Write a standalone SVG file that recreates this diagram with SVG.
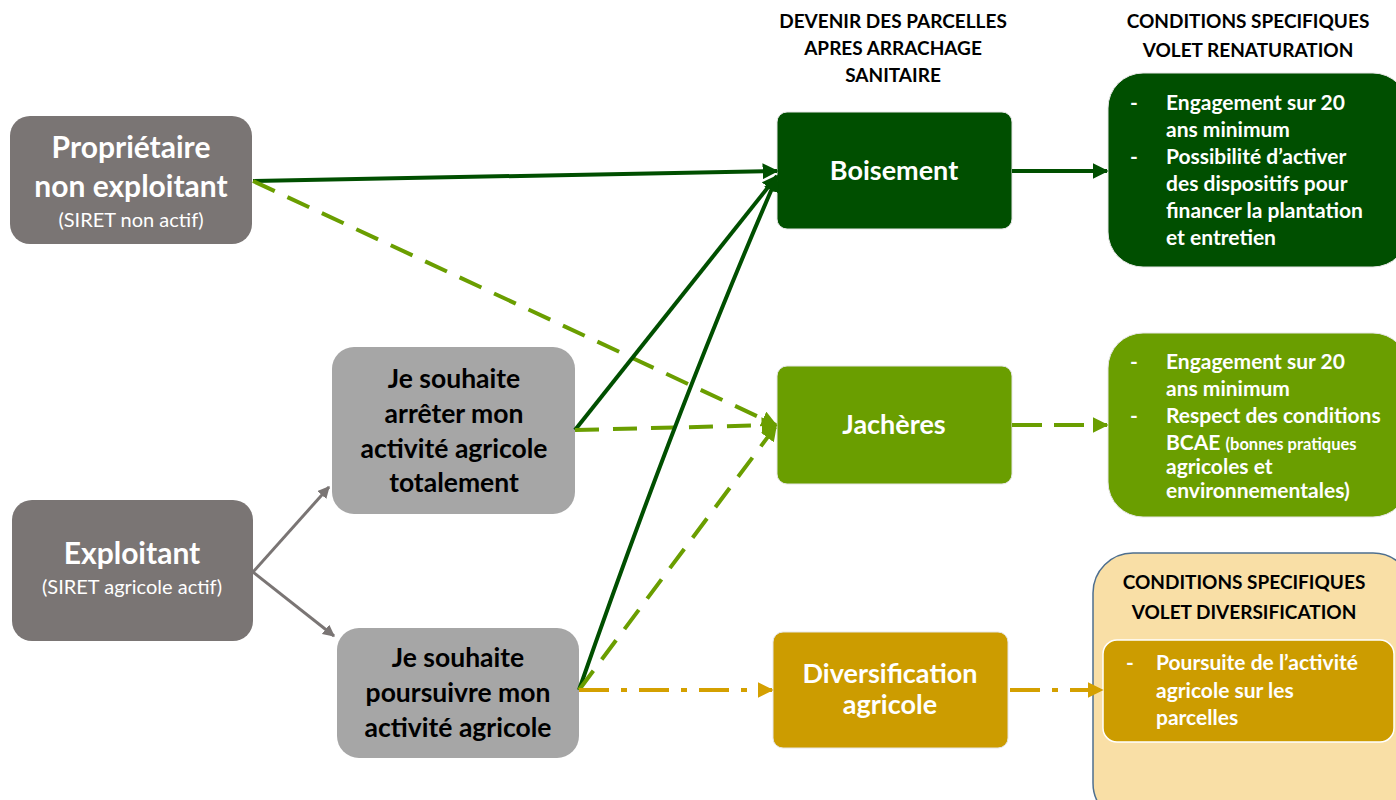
<svg xmlns="http://www.w3.org/2000/svg" width="1396" height="800" viewBox="0 0 1396 800">
<style>
text{font-family:Lato,"Open Sans","Liberation Sans",sans-serif;font-weight:bold;text-anchor:middle}
.w{fill:#fff}
.k{fill:#000}
.reg{font-weight:normal}
.h{font-size:19px;fill:#000}
.dk{fill:#004f00}
.lg{fill:#6a9e00}
.gd{fill:#cc9c00}
.gr{fill:#7a7574}
.lgr{fill:#a6a6a6}
.bl{text-anchor:start;font-size:21px;fill:#fff}
.q{font-size:26.5px}
.big{font-size:30px}
.mid{font-size:27px}
</style>
<defs>
<marker id="aDk" viewBox="0 0 10 10" refX="9" refY="5" markerWidth="4" markerHeight="4" orient="auto" markerUnits="strokeWidth"><path d="M0,0L10,5L0,10z" fill="#004f00"/></marker>
<marker id="aLg" viewBox="0 0 10 10" refX="9" refY="5" markerWidth="4" markerHeight="4" orient="auto" markerUnits="strokeWidth"><path d="M0,0L10,5L0,10z" fill="#6a9e00"/></marker>
<marker id="aGd" viewBox="0 0 10 10" refX="9" refY="5" markerWidth="4" markerHeight="4" orient="auto" markerUnits="strokeWidth"><path d="M0,0L10,5L0,10z" fill="#d4a000"/></marker>
<marker id="aGr" viewBox="0 0 10 10" refX="9" refY="5" markerWidth="4" markerHeight="4" orient="auto" markerUnits="strokeWidth"><path d="M0,0L10,5L0,10z" fill="#7a7574"/></marker>
</defs>

<g id="headers">
<text class="h" x="893" y="28">DEVENIR DES PARCELLES</text>
<text class="h" x="893" y="55">APRES ARRACHAGE</text>
<text class="h" x="893" y="82">SANITAIRE</text>
<text class="h" x="1248" y="28">CONDITIONS SPECIFIQUES</text>
<text class="h" x="1248" y="57">VOLET RENATURATION</text>
</g>

<g id="proprietaire">
<rect x="10" y="116" width="242" height="128" rx="20" class="gr"/>
<text class="w big" x="131" y="158">Propriétaire</text>
<text class="w big" x="131" y="197">non exploitant</text>
<text class="w reg" x="131" y="227" font-size="20">(SIRET non actif)</text>
</g>

<g id="exploitant">
<rect x="12" y="500" width="241" height="141" rx="20" class="gr"/>
<text class="w big" x="132" y="564">Exploitant</text>
<text class="w reg" x="132" y="594" font-size="20">(SIRET agricole actif)</text>
</g>

<g id="arreter">
<rect x="332" y="347" width="243" height="167" rx="22" class="lgr"/>
<text class="k q" x="454" y="388">Je souhaite</text>
<text class="k q" x="454" y="423">arrêter mon</text>
<text class="k q" x="454" y="458">activité agricole</text>
<text class="k q" x="454" y="492">totalement</text>
</g>

<g id="poursuivre">
<rect x="337" y="628" width="242" height="130" rx="22" class="lgr"/>
<text class="k q" x="458" y="667">Je souhaite</text>
<text class="k q" x="458" y="702">poursuivre mon</text>
<text class="k q" x="458" y="737">activité agricole</text>
</g>

<g id="boisement">
<rect x="777" y="112" width="235" height="117" rx="10" class="dk" stroke="#e6e6e6" stroke-width="1"/>
<text class="w mid" x="894" y="180">Boisement</text>
</g>

<g id="jacheres">
<rect x="777" y="366" width="235" height="118" rx="10" class="lg" stroke="#e6e6e6" stroke-width="1"/>
<text class="w mid" x="894" y="434">Jachères</text>
</g>

<g id="diversification">
<rect x="773" y="632" width="235" height="116" rx="10" class="gd" stroke="#e6e6e6" stroke-width="1"/>
<text class="w mid" x="890" y="683">Diversification</text>
<text class="w mid" x="890" y="714">agricole</text>
</g>

<g id="cond-renaturation">
<rect x="1108" y="73" width="300" height="194" rx="35" class="dk" stroke="#e6e6e6" stroke-width="1"/>
<text class="bl" x="1130" y="110">-</text>
<text class="bl" x="1166" y="110">Engagement sur 20</text>
<text class="bl" x="1166" y="137">ans minimum</text>
<text class="bl" x="1130" y="164">-</text>
<text class="bl" x="1166" y="164">Possibilité d’activer</text>
<text class="bl" x="1166" y="191">des dispositifs pour</text>
<text class="bl" x="1166" y="218">financer la plantation</text>
<text class="bl" x="1166" y="245">et entretien</text>
</g>

<g id="cond-jacheres">
<rect x="1108" y="333" width="300" height="184" rx="35" class="lg" stroke="#e6e6e6" stroke-width="1"/>
<text class="bl" x="1130" y="369">-</text>
<text class="bl" x="1166" y="369">Engagement sur 20</text>
<text class="bl" x="1166" y="396">ans minimum</text>
<text class="bl" x="1130" y="423">-</text>
<text class="bl" x="1166" y="423">Respect des conditions</text>
<text class="bl" x="1166" y="450">BCAE <tspan font-size="16.5">(bonnes pratiques</tspan></text>
<text class="bl" x="1166" y="474" font-size="16">agricoles et</text>
<text class="bl" x="1166" y="498" font-size="16">environnementales)</text>
</g>

<g id="cond-diversification">
<rect x="1093" y="553" width="320" height="270" rx="40" fill="#f9dfa6" stroke="#4e6f8f" stroke-width="1.5"/>
<text class="h" x="1244" y="589">CONDITIONS SPECIFIQUES</text>
<text class="h" x="1244" y="619">VOLET DIVERSIFICATION</text>
<rect x="1103" y="640" width="291" height="102" rx="14" class="gd" stroke="#ffffff" stroke-width="1.5"/>
<text class="bl" x="1126" y="670">-</text>
<text class="bl" x="1156" y="670">Poursuite de l’activité</text>
<text class="bl" x="1156" y="698">agricole sur les</text>
<text class="bl" x="1156" y="725">parcelles</text>
</g>

<g id="connectors" fill="none" stroke-width="4">
<line x1="253" y1="181" x2="777" y2="171" stroke="#004f00" marker-end="url(#aDk)"/>
<line x1="253" y1="181" x2="776" y2="425" stroke="#6a9e00" stroke-dasharray="24,14" marker-end="url(#aLg)"/>
<line x1="253" y1="572" x2="329" y2="487" stroke="#7a7574" stroke-width="3" marker-end="url(#aGr)"/>
<line x1="253" y1="572" x2="334" y2="636" stroke="#7a7574" stroke-width="3" marker-end="url(#aGr)"/>
<line x1="575" y1="430" x2="777" y2="176" stroke="#004f00" marker-end="url(#aDk)"/>
<line x1="575" y1="430" x2="776" y2="425" stroke="#6a9e00" stroke-dasharray="24,14" marker-end="url(#aLg)"/>
<path d="M579,690 Q680,400 777,177" stroke="#004f00" marker-end="url(#aDk)"/>
<line x1="579" y1="690" x2="776" y2="426" stroke="#6a9e00" stroke-dasharray="24,14" marker-end="url(#aLg)"/>
<line x1="579" y1="690" x2="772" y2="690" stroke="#d4a000" stroke-dasharray="30,12,6,12" marker-end="url(#aGd)"/>
<line x1="1012" y1="171" x2="1107" y2="171" stroke="#004f00" marker-end="url(#aDk)"/>
<line x1="1012" y1="425" x2="1107" y2="425" stroke="#6a9e00" stroke-dasharray="30,12" marker-end="url(#aLg)"/>
<line x1="1010" y1="690" x2="1102" y2="690" stroke="#d4a000" stroke-dasharray="30,12,6,12" marker-end="url(#aGd)"/>
</g>
</svg>
